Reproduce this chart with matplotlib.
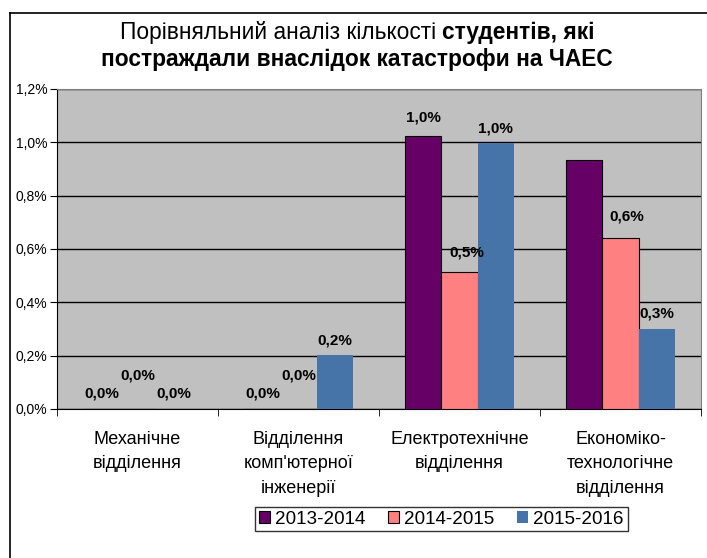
import matplotlib
matplotlib.use("Agg")
import matplotlib.pyplot as plt
import numpy as np
from matplotlib.lines import Line2D

plt.rcParams['font.family'] = ['Liberation Sans', 'DejaVu Sans']

categories = ["Механічне\nвідділення", "Відділення\nкомп'ютерної\nінженерії",
              "Електротехнічне\nвідділення", "Економіко-\nтехнологічне\nвідділення"]
series_names = ["2013-2014", "2014-2015", "2015-2016"]
v_2013 = [0.0, 0.0, 1.025, 0.934]
v_2014 = [0.0, 0.0, 0.515, 0.642]
v_2015 = [0.0, 0.201, 0.996, 0.300]
series = [v_2013, v_2014, v_2015]
show_label = [[True, True, True, False],
              [True, True, True, True],
              [True, True, True, True]]
y_ticks = [0.0, 0.2, 0.4, 0.6, 0.8, 1.0, 1.2]

colors = ["#660066", "#FF8080", "#4674A8"]
edges = ["black", "black", "none"]
# label offsets in pixels (dx, dy) per series / category
label_off = [[(0, 16), (0, 16), (0, 18), (0, 16)],
             [(0, 33), (0, 33), (7, 19), (6, 21)],
             [(0, 16), (0, 15), (0, 15), (0, 16)]]

W, H = 707, 558
fig = plt.figure(figsize=(W / 100, H / 100), dpi=100)
ax = fig.add_axes([57 / W, 1 - 409 / H, (701 - 57) / W, (409 - 89) / H])
ax.set_facecolor("#C0C0C0")

x = np.arange(len(categories))
bw = 0.224
for i, (vals, c, e) in enumerate(zip(series, colors, edges)):
    pos = x + (i - 1) * bw
    ax.bar(pos, vals, width=bw, color=c, edgecolor=e, linewidth=0.8,
           label=series_names[i], zorder=3)
    for j, v in enumerate(vals):
        if not show_label[i][j]:
            continue
        dx, dy = label_off[i][j]
        ax.annotate(f"{v:.1f}%".replace(".", ","), xy=(pos[j], v),
                    xytext=(dx, dy), textcoords="offset pixels",
                    ha="center", va="center", fontsize=11, fontweight="bold",
                    zorder=5)

ax.set_xlim(-0.5, len(categories) - 0.5)
ax.set_ylim(0, 1.2)
ax.set_yticks(y_ticks)
ax.set_yticklabels([f"{t:.1f}%".replace(".", ",") for t in y_ticks], fontsize=10)
ax.yaxis.grid(True, color="black", linewidth=1, zorder=1)
ax.set_axisbelow(True)
ax.set_xticks(x)
ax.set_xticklabels(categories, fontsize=13, linespacing=1.55, va="top")
ax.set_xticks(np.arange(-0.5, len(categories)), minor=True)
ax.tick_params(axis="x", which="major", length=0, pad=16)
ax.tick_params(axis="x", which="minor", length=5, direction="out", color="black")
ax.tick_params(axis="y", length=5, direction="out", pad=2)
for s in ["top", "right"]:
    ax.spines[s].set_color("#808080")
for s in ["left", "bottom"]:
    ax.spines[s].set_color("black")

# chart frame
fig.add_artist(Line2D([10 / W, 10 / W], [0, 1 - 13 / H], transform=fig.transFigure,
                      color="black", linewidth=1.2))
fig.add_artist(Line2D([10 / W, 1], [1 - 13 / H, 1 - 13 / H], transform=fig.transFigure,
                      color="black", linewidth=1.2))

# title
fig.canvas.draw()
r = fig.canvas.get_renderer()
part1 = "Порівняльний аналіз кількості "
part2 = "студентів, які"
t1 = fig.text(0, 0, part1, fontsize=16.4, va="center")
t2 = fig.text(0, 0, part2, fontsize=16.4, fontweight="bold", va="center")
w1 = t1.get_window_extent(r).width
w2 = t2.get_window_extent(r).width
cx = 357
x0 = cx - (w1 + w2) / 2
t1.set_position((x0 / W, 1 - 33 / H))
t2.set_position(((x0 + w1) / W, 1 - 33 / H))
fig.text(cx / W, 1 - 59 / H, "постраждали внаслідок катастрофи на ЧАЕС",
         fontsize=16.4, fontweight="bold", ha="center", va="center")

leg = fig.legend(loc="center", bbox_to_anchor=(441.5 / W, 1 - 519 / H), ncol=3,
                 fontsize=13.6, frameon=True, fancybox=False, edgecolor="black",
                 handlelength=0.55, handleheight=0.55, handletextpad=0.3,
                 columnspacing=1.2, borderpad=0.2, borderaxespad=0)
leg.get_frame().set_linewidth(1)

fig.savefig("out.png", dpi=100)
